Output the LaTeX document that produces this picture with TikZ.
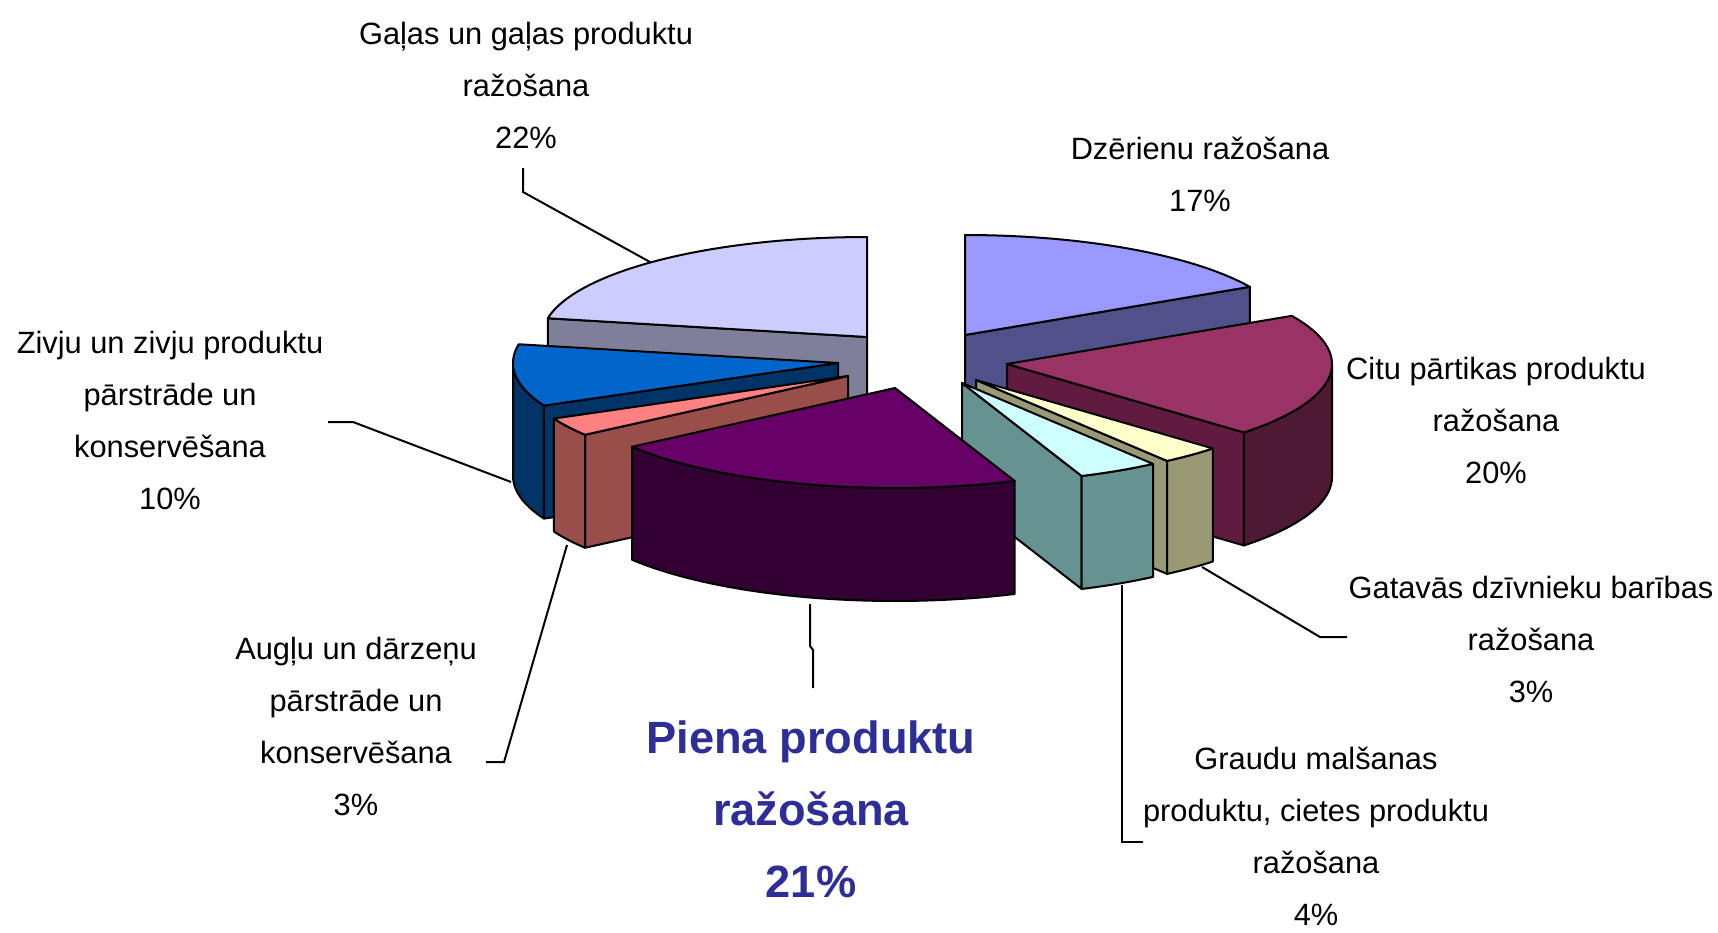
\documentclass[tikz,border=0pt]{standalone}
\usepackage{fontspec}
\setmainfont{Liberation Sans}
\definecolor{galasTop}{HTML}{CCCCFF}
\definecolor{galasSide}{HTML}{7F7F9A}
\definecolor{dzerTop}{HTML}{9999FF}
\definecolor{dzerSide}{HTML}{50508A}
\definecolor{cituTop}{HTML}{993366}
\definecolor{cituSide}{HTML}{621B40}
\definecolor{cituRim}{HTML}{4D1933}
\definecolor{gatTop}{HTML}{FFFFCC}
\definecolor{gatSide}{HTML}{999975}
\definecolor{grauTop}{HTML}{CCFFFF}
\definecolor{grauSide}{HTML}{679292}
\definecolor{pienaTop}{HTML}{660066}
\definecolor{pienaSide}{HTML}{330033}
\definecolor{augluTop}{HTML}{FF8080}
\definecolor{augluSide}{HTML}{9A4E4A}
\definecolor{zivjuTop}{HTML}{0066CC}
\definecolor{zivjuSide}{HTML}{003366}
\definecolor{pienaTxt}{HTML}{2E2E99}
\newcommand\topface[5]{\path[face,fill=#5] (#1,#2) -- plot[domain=#3:#4,samples=40,variable=\t] ({#1+325*cos(\t)},{#2+100*sin(\t)}) -- cycle;}
\newcommand\rimface[5]{\path[face,fill=#5] plot[domain=#3:#4,samples=40,variable=\t] ({#1+325*cos(\t)},{#2+100*sin(\t)}) -- plot[domain=#4:#3,samples=40,variable=\t] ({#1+325*cos(\t)},{#2+113+100*sin(\t)}) -- cycle;}
\newcommand\radface[4]{\path[face,fill=#4] (#1,#2) -- ({#1+325*cos(#3)},{#2+100*sin(#3)}) -- ++(0,113) -- (#1,#2+113) -- cycle;}
\begin{document}
\begin{tikzpicture}[x=0.5pt,y=-0.5pt,
  face/.style={draw=black,line width=1pt,line join=round},
  lead/.style={draw=black,line width=1pt},
  lbl/.style={align=center,inner sep=0pt,font=\fontsize{15.4}{26}\selectfont},
  bigl/.style={align=center,inner sep=0pt,text=pienaTxt,font=\bfseries\fontsize{22.6}{36}\selectfont}]
\fill[white] (0,0) rectangle (1718,932);
\useasboundingbox (0,0) rectangle (1718,932);
% Galas
\radface{867}{337}{190.8}{galasSide}
\topface{867}{337}{190.8}{270}{galasTop}
% Dzerienu
\radface{965}{335}{-28.8}{dzerSide}
\topface{965}{335}{-90}{-28.8}{dzerTop}
% Citu
\radface{1007}{364}{43.2}{cituSide}
\rimface{1007}{364}{0}{43.2}{cituRim}
\topface{1007}{364}{-28.8}{43.2}{cituTop}
% Zivju
\radface{838}{363}{154.8}{zivjuSide}
\rimface{838}{363}{154.8}{180}{zivjuSide}
\topface{838}{363}{154.8}{190.8}{zivjuTop}
% Gatavas
\radface{976}{380}{54}{gatSide}
\rimface{976}{380}{43.2}{54}{gatSide}
\topface{976}{380}{43.2}{54}{gatTop}
% Auglu
\radface{848}{376}{144}{augluSide}
\rimface{848}{376}{144}{154.8}{augluSide}
\topface{848}{376}{144}{154.8}{augluTop}
% Graudu
\radface{962}{383}{68.4}{grauSide}
\rimface{962}{383}{54}{68.4}{grauSide}
\topface{962}{383}{54}{68.4}{grauTop}
% Piena
\rimface{895}{388}{68.4}{144}{pienaSide}
\topface{895}{388}{68.4}{144}{pienaTop}
% labels
\node[lbl] (galas) at (526,85) {Gaļas un gaļas produktu\\ražošana\\22\%};
\node[lbl] (dzer) at (1200,174) {Dzērienu ražošana\\17\%};
\node[lbl] (citu) at (1496,420) {Citu pārtikas produktu\\ražošana\\20\%};
\node[lbl] (gat) at (1531,639) {Gatavās dzīvnieku barības\\ražošana\\3\%};
\node[lbl] (grau) at (1316,836) {Graudu malšanas\\produktu, cietes produktu\\ražošana\\4\%};
\node[bigl] (piena) at (811,809) {Piena produktu\\ražošana\\21\%};
\node[lbl] (auglu) at (356,726) {Augļu un dārzeņu\\pārstrāde un\\konservēšana\\3\%};
\node[lbl] (zivju) at (170,420) {Zivju un zivju produktu\\pārstrāde un\\konservēšana\\10\%};
% leader lines
\coordinate (galasP) at (650,262);
\coordinate (galasB) at (523,192);
\coordinate (galasE) at (523,168);
\draw[lead] (galasP) -- (galasB) -- (galasE);
\coordinate (gatP) at (1202,567);
\coordinate (gatB) at (1320,637);
\coordinate (gatE) at (1347,637);
\draw[lead] (gatP) -- (gatB) -- (gatE);
\coordinate (grauP) at (1122,585);
\coordinate (grauB) at (1122,842);
\coordinate (grauE) at (1143,842);
\draw[lead] (grauP) -- (grauB) -- (grauE);
\coordinate (pienaP) at (810,604);
\coordinate (pienaB) at (810,646);
\coordinate (pienaC) at (813,650);
\coordinate (pienaE) at (813,688);
\draw[lead] (pienaP) -- (pienaB) -- (pienaC) -- (pienaE);
\coordinate (augluP) at (567,545);
\coordinate (augluB) at (504,762);
\coordinate (augluE) at (486,762);
\draw[lead] (augluP) -- (augluB) -- (augluE);
\coordinate (zivjuP) at (511,482);
\coordinate (zivjuB) at (353,422);
\coordinate (zivjuE) at (328,422);
\draw[lead] (zivjuP) -- (zivjuB) -- (zivjuE);
\end{tikzpicture}
\end{document}
